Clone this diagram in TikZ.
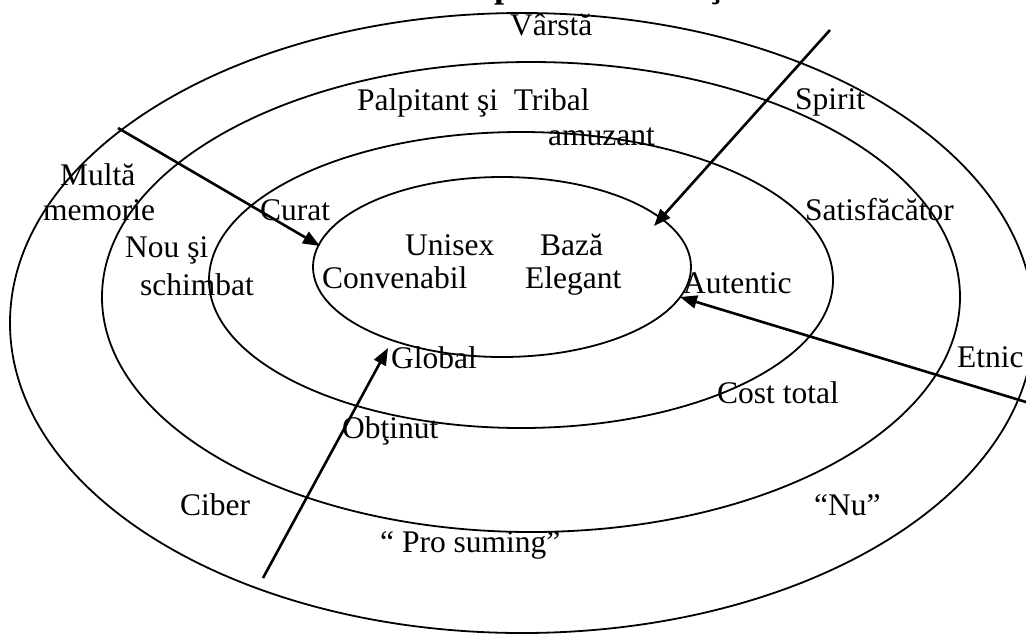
\documentclass[tikz,border=0pt]{standalone}
\usepackage{fontspec}
\setmainfont{Liberation Serif}
\usetikzlibrary{arrows.meta,shapes.geometric}
\begin{document}
\begin{tikzpicture}[x=1pt,y=-1pt,
  ring/.style={draw, ellipse, inner sep=0pt, outer sep=0pt, line width=1.8pt},
  lbl/.style={anchor=base west, inner sep=0pt, font=\fontsize{31.5}{36}\selectfont},
  heading/.style={anchor=base west, inner sep=0pt, font=\bfseries\fontsize{36}{40}\selectfont},
  pointer/.style={line width=2.6pt, -{Triangle[length=17pt,width=13pt]}}]
\useasboundingbox (0,0) rectangle (1026,633);
\clip (0,0) rectangle (1026,633);

% heading above the rings
\node[heading] (title) at (393,-2.5) {Harta produselor naţionale};

% concentric rings
\node[ring, minimum width=1024pt, minimum height=620pt] (outer) at (522,323) {};
\node[ring, minimum width=858pt, minimum height=470pt] (second) at (531,297) {};
\node[ring, minimum width=624pt, minimum height=296pt] (third) at (521,280) {};
\node[ring, minimum width=378pt, minimum height=180pt] (inner) at (502,267) {};

% labels
\node[lbl] (varsta) at (510,35) {Vârstă};
\node[lbl] (palp) at (357,110) {Palpitant şi\ \ Tribal};
\node[lbl] (amuz) at (548,145) {amuzant};
\node[lbl] (spirit) at (795,109) {Spirit};
\node[lbl] (multa) at (60,185) {Multă};
\node[lbl] (memorie) at (43,220) {memorie};
\node[lbl] (curat) at (260,220) {Curat};
\node[lbl] (nou) at (125,257) {Nou şi};
\node[lbl] (schimbat) at (140,295) {schimbat};
\node[lbl] (unisex) at (405,255) {Unisex};
\node[lbl] (baza) at (540,255) {Bază};
\node[lbl] (conv) at (322,288) {Convenabil};
\node[lbl] (eleg) at (525,288) {Elegant};
\node[lbl] (satis) at (805,220) {Satisfăcător};
\node[lbl] (autentic) at (683,293) {Autentic};
\node[lbl] (global) at (391,368) {Global};
\node[lbl] (obtinut) at (342,438) {Obţinut};
\node[lbl] (cost) at (717,403) {Cost total};
\node[lbl] (etnic) at (957,367) {Etnic};
\node[lbl] (ciber) at (180,515) {Ciber};
\node[lbl] (nu) at (814,515) {“Nu”};
\node[lbl] (pro) at (380,552) {“ Pro suming”};

% arrow ends
\coordinate (p1) at (118,128);
\coordinate (t1) at (320,246);
\coordinate (p2) at (830,30);
\coordinate (t2) at (654,226);
\coordinate (p3) at (1030,403.2);
\coordinate (t3) at (680,297);
\coordinate (p4) at (263,578);
\coordinate (t4) at (388,348);

% arrows pointing at the core
\draw[pointer] (p1) -- (t1);
\draw[pointer] (p2) -- (t2);
\draw[pointer] (p3) -- (t3);
\draw[pointer] (p4) -- (t4);
\end{tikzpicture}
\end{document}
